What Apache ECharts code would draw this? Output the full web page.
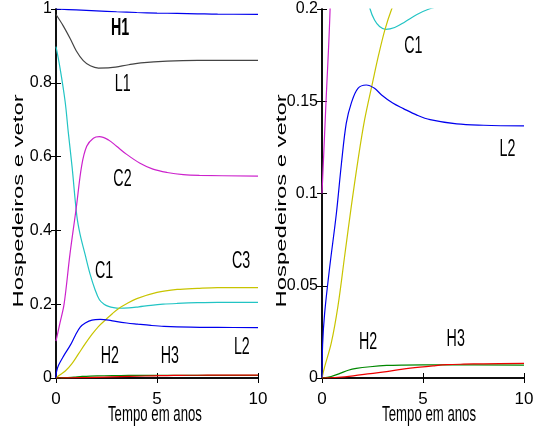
<!DOCTYPE html>
<html><head><meta charset="utf-8">
<script src="https://cdn.jsdelivr.net/npm/echarts@6/dist/echarts.min.js"></script>
<style>html,body{margin:0;padding:0;background:#fff}#c{width:538px;height:432px}</style>
</head><body><div id="c"></div>
<script>
// ---- data (time in years, value = fraction) ----
const seriesNames = ['H1','L1','C1','C2','C3','L2','H2','H3'];
const H1 = [[0,1],[1,0.9975],[2,0.995],[3,0.9925],[4,0.9905],[5,0.989],[6,0.988],[7,0.987],[8,0.986],[10,0.9855]];
const L1 = [[0,0.985],[0.35,0.955],[0.7,0.92],[1.0,0.887],[1.35,0.86],[1.7,0.846],[2.1,0.84],[2.7,0.841],[3.6,0.849],[4.2,0.854],[5.5,0.859],[7,0.861],[10,0.861]];
const C1 = [[0,0.898],[0.2,0.84],[0.45,0.75],[0.61,0.665],[0.8,0.57],[1.03,0.44],[1.19,0.39],[1.44,0.335],[1.68,0.283],[1.93,0.24],[2.15,0.212],[2.38,0.2],[2.6,0.194],[2.85,0.1905],[3.15,0.189],[3.6,0.19],[4.1,0.193],[4.7,0.197],[5.3,0.2],[6,0.202],[7,0.204],[8,0.205],[10,0.205]];
const C2 = [[0,0.1],[0.2,0.15],[0.4,0.2],[0.69,0.335],[1.0,0.46],[1.27,0.575],[1.52,0.628],[1.85,0.65],[2.15,0.654],[2.6,0.645],[3.0,0.628],[3.5,0.606],[4.16,0.582],[4.8,0.566],[5.5,0.557],[6.3,0.551],[7.1,0.549],[10,0.547]];
const C3 = [[0,0],[0.13,0.006],[0.46,0.019],[0.79,0.039],[1.12,0.066],[1.45,0.093],[1.78,0.118],[2.11,0.14],[2.5,0.16],[2.8,0.175],[3.12,0.189],[3.45,0.2],[4,0.215],[5,0.232],[6,0.24],[7,0.243],[8,0.245],[10,0.245]];
const L2 = [[0,0],[0.03,0.018],[0.13,0.035],[0.38,0.06],[0.71,0.089],[0.96,0.116],[1.2,0.138],[1.45,0.149],[1.78,0.157],[2.19,0.1588],[2.6,0.157],[2.95,0.1534],[3.5,0.149],[4.03,0.146],[4.7,0.1425],[5.35,0.14],[6.67,0.1377],[8,0.137],[10,0.1366]];
const H2 = [[0,0],[0.45,0.0008],[0.89,0.0025],[1.3,0.0042],[1.7,0.0052],[2.38,0.0061],[3.2,0.0068],[4,0.007],[6,0.0071],[10,0.007]];
const H3 = [[0,0],[0.8,0.0004],[1.55,0.0012],[2.4,0.0024],[3.2,0.0035],[4.0,0.0048],[4.85,0.0059],[5.5,0.0066],[6.17,0.0072],[7,0.0075],[8,0.0077],[10,0.0079]];
const seriesData = [H1, L1, C1, C2, C3, L2, H2, H3];
const seriesColors = ['#0000ee','#444444','#22c4c4','#cc22cc','#c8c400','#0000ee','#008800','#ee0000'];

// axis ranges [min, max, interval]
const xRange = [0, 10, 5];
const yLeftRange = [0, 1, 0.2];
const yRightRange = [0, 0.2, 0.05];

// annotations [text, t, value]
const labelsLeft = [['H1',3.17,0.948],['L1',3.3,0.795],['C2',3.29,0.538],['C1',2.38,0.289],['C3',9.16,0.316],['H2',2.67,0.059],['H3',5.64,0.059],['L2',9.2,0.082]];
const labelsRight = [['C1',4.52,0.1796],['L2',9.18,0.1236],['H2',2.28,0.019],['H3',6.62,0.0206]];
const xTitle = 'Tempo em anos';
const yTitle = 'Hospedeiros e vetor';

const SANS = '"Liberation Sans",Arial,sans-serif';
const chart = echarts.init(document.getElementById('c'));

const grids = [
  {left:56, top:9, width:202, height:369},
  {left:322, top:9, width:202, height:369}
];
const xAxes = [], yAxes = [];
const yRanges = [yLeftRange, yRightRange];
grids.forEach((g, gi) => {
  const base = {gridIndex: gi, type:'value', min:xRange[0], max:xRange[1], interval:xRange[2],
    splitLine:{show:false}, axisLine:{lineStyle:{color:'#000', width:1.5}},
    axisTick:{inside:true, length:5, lineStyle:{color:'#000', width:1}}};
  xAxes.push(Object.assign({}, base, {position:'bottom',
    axisLabel:{color:'#000', fontFamily:SANS, fontSize:17, margin:13}}));
  xAxes.push(Object.assign({}, base, {position:'top', axisLabel:{show:false}}));
  const r = yRanges[gi];
  const ybase = {gridIndex: gi, type:'value', min:r[0], max:r[1], interval:r[2],
    splitLine:{show:false}, axisLine:{lineStyle:{color:'#000', width:1.5}},
    axisTick:{inside:true, length:5, lineStyle:{color:'#000', width:1}}};
  yAxes.push(Object.assign({}, ybase, {position:'left',
    axisLabel:{color:'#000', fontFamily:SANS, fontSize:16, margin:4}}));
  yAxes.push(Object.assign({}, ybase, {position:'right', axisLabel:{show:false}}));
});

const series = [];
grids.forEach((g, gi) => {
  seriesData.forEach((d, si) => {
    series.push({type:'line', name:seriesNames[si], xAxisIndex: gi*2, yAxisIndex: gi*2,
      data:d, smooth:0.35, showSymbol:false, symbol:'none', clip:true,
      lineStyle:{color:seriesColors[si], width:1.2}, itemStyle:{color:seriesColors[si]},
      animation:false, silent:true});
  });
});

chart.setOption({animation:false, grid:grids, xAxis:xAxes, yAxis:yAxes, series:series});

const graphics = [];
function px(gi, t, v) { return chart.convertToPixel({xAxisIndex: gi*2, yAxisIndex: gi*2}, [t, v]); }
function addLabels(list, gi) {
  list.forEach(([txt, t, v]) => {
    const p = px(gi, t, v);
    graphics.push({type:'text', x:p[0], y:p[1], scaleX:0.62, silent:true,
      style:{text:txt, fill:'#000', fontFamily:SANS, fontSize:23, fontWeight: txt==='H1' && gi===0 ? 'bold':'normal',
        align:'center', verticalAlign:'middle'}});
  });
}
addLabels(labelsLeft, 0);
addLabels(labelsRight, 1);
// x-axis titles (condensed like the original)
[[0,4.9],[1,5.3]].forEach(([gi, t]) => {
  const p = px(gi, t, 0);
  graphics.push({type:'text', x:p[0], y:p[1]+37, scaleX:0.6, silent:true,
    style:{text:xTitle, fill:'#000', fontFamily:SANS, fontSize:22, align:'center', verticalAlign:'middle'}});
});
// rotated y-axis titles
[[0,-1.8,0.48],[1,-1.98,0.096]].forEach(([gi, t, v]) => {
  const p = px(gi, t, v);
  graphics.push({type:'text', x:p[0], y:p[1], rotation:Math.PI/2, scaleX:1.7, silent:true,
    style:{text:yTitle, fill:'#000', fontFamily:SANS, fontSize:14, align:'center', verticalAlign:'middle'}});
});
chart.setOption({graphic:graphics});
</script></body></html>
